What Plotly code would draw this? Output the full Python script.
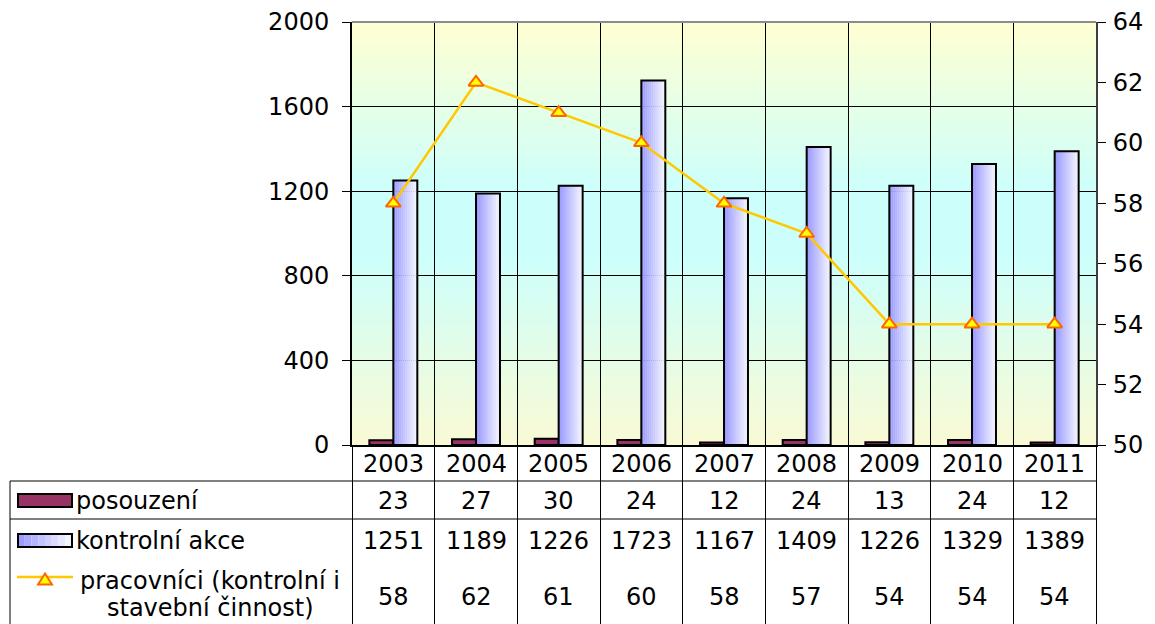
import plotly.graph_objects as go

years = ["2003", "2004", "2005", "2006", "2007", "2008", "2009", "2010", "2011"]
posouzeni = [23, 27, 30, 24, 12, 24, 13, 24, 12]
kontrolni = [1251, 1189, 1226, 1723, 1167, 1409, 1226, 1329, 1389]
pracovnici = [58, 62, 61, 60, 58, 57, 54, 54, 54]

row_labels = ["posouzení", "kontrolní akce", "pracovníci (kontrolní i", "stavební činnost)"]

FONT = "DejaVu Sans, Verdana, sans-serif"
FS = 24
# page body has an 8px margin, so the figure is a bit smaller than the window
OFF = 8
W, H = 1155 - OFF, 624 - OFF
PX0, PX1, PY0, PY1 = 352, 1096, 22, 445          # plot area in window pixels
L, R, T, B = PX0 - OFF, W - (PX1 - OFF), PY0 - OFF, H - (PY1 - OFF)
PW, PH = PX1 - PX0, PY1 - PY0


def px_x(x):
    # window pixel -> paper x
    return (x - PX0) / PW


def px_y(y):
    # window pixel -> paper y
    return (PY1 - y) / PH


def mix(c1, c2, t):
    return "rgb(%d,%d,%d)" % tuple(round(a + (b - a) * t) for a, b in zip(c1, c2))


fig = go.Figure()

# posouzení bars
fig.add_trace(go.Bar(
    x=years, y=posouzeni, offset=-0.29, width=0.29,
    marker=dict(color="#993366", line=dict(color="black", width=2)),
    showlegend=False, name=row_labels[0],
))

# kontrolní akce bars: horizontal gradient made of thin slices + outline
n_sl = 12
blue_l, blue_r = (156, 156, 255), (244, 244, 255)
for k in range(n_sl):
    fig.add_trace(go.Bar(
        x=years, y=kontrolni, offset=0.29 * k / n_sl, width=0.29 / n_sl + 0.004,
        marker=dict(color=mix(blue_l, blue_r, k / (n_sl - 1)), line=dict(width=0)),
        showlegend=False, hoverinfo="skip",
    ))
fig.add_trace(go.Bar(
    x=years, y=kontrolni, offset=0, width=0.29,
    marker=dict(color="rgba(0,0,0,0)", line=dict(color="black", width=2)),
    showlegend=False, name="kontrolní akce",
))

# pracovníci line
fig.add_trace(go.Scatter(
    x=years, y=pracovnici, yaxis="y2", mode="lines+markers",
    line=dict(color="#FFC800", width=2.5),
    marker=dict(symbol="triangle-up", size=13, color="#FFFF00",
                line=dict(color="#FF6600", width=2)),
    showlegend=False, name="pracovníci", cliponaxis=False,
))

shapes = []
# background gradient yellow - cyan - yellow
yel_top, cyan, yel_bot = (255, 255, 210), (204, 255, 252), (250, 250, 212)
nb = 60
for k in range(nb):
    f = (k + 0.5) / nb
    if f < 0.45:
        c = mix(yel_bot, cyan, f / 0.45)
    elif f < 0.6:
        c = mix(cyan, cyan, 0)
    else:
        c = mix(cyan, yel_top, (f - 0.6) / 0.4)
    shapes.append(dict(type="rect", xref="paper", yref="paper", layer="below",
                       x0=0, x1=1, y0=k / nb, y1=(k + 1) / nb + 0.002,
                       fillcolor=c, line=dict(width=0)))

# top border of plot area
shapes.append(dict(type="line", xref="paper", yref="paper", x0=0, x1=1, y0=1, y1=1,
                   line=dict(color="#8c8c8c", width=2)))

# data table lines
for yy in (481, 519):
    shapes.append(dict(type="line", xref="paper", yref="paper",
                       x0=px_x(10), x1=1, y0=px_y(yy), y1=px_y(yy),
                       line=dict(color="black", width=1)))
shapes.append(dict(type="line", xref="paper", yref="paper",
                   x0=px_x(10), x1=px_x(10), y0=px_y(481), y1=px_y(624),
                   line=dict(color="black", width=1)))

# legend keys in the table
kx0, kx1 = px_x(18), px_x(72)
shapes.append(dict(type="rect", xref="paper", yref="paper",
                   x0=kx0, x1=kx1, y0=px_y(507), y1=px_y(494),
                   fillcolor="#993366", line=dict(color="black", width=2)))
nk = 8
for k in range(nk):
    shapes.append(dict(type="rect", xref="paper", yref="paper",
                       x0=kx0 + (kx1 - kx0) * k / nk, x1=kx0 + (kx1 - kx0) * (k + 1) / nk,
                       y0=px_y(547), y1=px_y(534),
                       fillcolor=mix(blue_l, blue_r, k / (nk - 1)), line=dict(width=0)))
shapes.append(dict(type="rect", xref="paper", yref="paper",
                   x0=kx0, x1=kx1, y0=px_y(547), y1=px_y(534),
                   line=dict(color="black", width=2)))
shapes.append(dict(type="line", xref="paper", yref="paper",
                   x0=px_x(17), x1=px_x(73), y0=px_y(577), y1=px_y(577),
                   line=dict(color="#FFC800", width=2.5)))
tx, ty = px_x(45), px_y(579)
dx, dy = 7 / PW, 5.5 / PH
shapes.append(dict(type="path", xref="paper", yref="paper",
                   path="M %f,%f L %f,%f L %f,%f Z" % (tx - dx, ty - dy, tx + dx, ty - dy, tx, ty + dy),
                   fillcolor="#FFFF00", line=dict(color="#FF6600", width=2)))

annotations = []
row_y = [px_y(464), px_y(501), px_y(541), px_y(597)]
for i, yr in enumerate(years):
    for val, yv in zip([yr, posouzeni[i], kontrolni[i], pracovnici[i]], row_y):
        # category index as x position on the category axis
        annotations.append(dict(x=i, xref="x", y=yv, yref="paper", text=str(val),
                                showarrow=False, xanchor="center", yanchor="middle",
                                font=dict(family=FONT, size=FS, color="black")))
for txt, yv in ((row_labels[0], row_y[1]), (row_labels[1], row_y[2])):
    annotations.append(dict(x=px_x(74), xref="paper", y=yv, yref="paper", text=txt,
                            showarrow=False, xanchor="left", yanchor="middle",
                            font=dict(family=FONT, size=FS, color="black")))
for txt, yy in ((row_labels[2], 581), (row_labels[3], 608)):
    annotations.append(dict(x=px_x(210), xref="paper", y=px_y(yy), yref="paper", text=txt,
                            showarrow=False, xanchor="center", yanchor="middle",
                            font=dict(family=FONT, size=FS, color="black")))

fig.update_layout(
    width=W, height=H,
    margin=dict(l=L, r=R, t=T, b=B, pad=0, autoexpand=False),
    paper_bgcolor="white", plot_bgcolor="#FFFFD8",
    barmode="overlay",
    font=dict(family=FONT, size=FS, color="black"),
    shapes=shapes, annotations=annotations,
    xaxis=dict(type="category", range=[-0.5, 8.5], tickson="boundaries", automargin=False,
               showgrid=True, gridcolor="black", gridwidth=1,
               ticks="outside", ticklen=B, tickcolor="black", tickwidth=1,
               showticklabels=False, showline=True, linecolor="black", linewidth=2,
               zeroline=False),
    yaxis=dict(range=[0, 2000], dtick=400, tick0=0, showgrid=True, gridcolor="black",
               gridwidth=1, ticks="outside", ticklen=8, tickcolor="black", automargin=False,
               showline=True, linecolor="black", linewidth=2, zeroline=False,
               ticklabelstandoff=8, tickfont=dict(family=FONT, size=FS)),
    yaxis2=dict(range=[50, 64], dtick=2, tick0=50, overlaying="y", side="right",
                showgrid=False, ticks="outside", ticklen=8, tickcolor="black", automargin=False,
                showline=True, linecolor="#404040", linewidth=2, zeroline=False,
                ticklabelstandoff=2, tickfont=dict(family=FONT, size=FS)),
)

fig.write_html("out.html")
